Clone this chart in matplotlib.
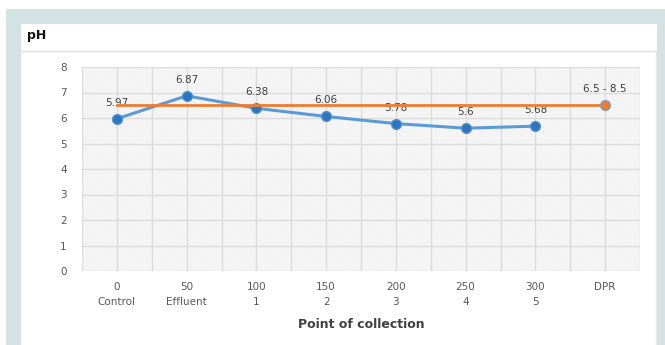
import numpy as np
import matplotlib.pyplot as plt
from matplotlib.patches import Rectangle
import matplotlib.lines as mlines

# data
distance = ['0', '50', '100', '150', '200', '250', '300', 'DPR']
site = ['Control', 'Effluent', '1', '2', '3', '4', '5', '']
ph_values = [5.97, 6.87, 6.38, 6.06, 5.78, 5.6, 5.68]
ph_labels = ['5.97', '6.87', '6.38', '6.06', '5.78', '5.6', '5.68']
dpr_limit = [6.5] * 8
dpr_label = '6.5 - 8.5'

W, H = 665, 345
fig = plt.figure(figsize=(W / 100, H / 100), dpi=100)

def fx(px):
    return px / W

def fy(py):
    return 1 - py / H

# page background and white card
fig.patches.append(Rectangle((fx(6), 0), 1 - fx(6), fy(9), transform=fig.transFigure,
                             facecolor='#d3e3e3', edgecolor='none', zorder=-3))
fig.patches.append(Rectangle((fx(21), 0), fx(657) - fx(21), fy(24), transform=fig.transFigure,
                             facecolor='white', edgecolor='none', zorder=-2))
fig.lines.append(mlines.Line2D([fx(21), fx(657)], [fy(51), fy(51)], transform=fig.transFigure,
                               color='#e0e0e0', lw=1, zorder=-1))
fig.lines.append(mlines.Line2D([fx(656), fx(656)], [fy(51), 0], transform=fig.transFigure,
                               color='#e6e6e6', lw=1, zorder=-1))
fig.text(fx(27), fy(35), 'pH', fontsize=9, fontweight='bold', color='#111111', va='center')

ax = fig.add_axes([fx(82), fy(271), fx(640) - fx(82), fy(67) - fy(271)])
ax.set_facecolor('none')
plt.rcParams['hatch.linewidth'] = 0.5
ax.add_patch(Rectangle((0, 0), 1, 1, transform=ax.transAxes, facecolor='white',
                       edgecolor='#ececec', hatch='\\' * 18, lw=0, zorder=0))

ax.set_xlim(-0.5, 7.5)
ax.set_ylim(0, 8)
ax.set_yticks(range(0, 9))
ax.set_xticks(range(len(distance)))
ax.set_xticks(np.arange(-0.5, 7.6, 1.0), minor=True)
ax.set_xticklabels([d + '\n' + s for d, s in zip(distance, site)], fontsize=7.5,
                   color='#595959', linespacing=1.6, va='top')
ax.tick_params(axis='y', labelsize=7.5, labelcolor='#595959', length=0, pad=11)
ax.tick_params(axis='x', which='both', length=0, pad=8)
ax.grid(True, which='major', color='#dcdcdc', lw=1)
ax.grid(True, which='minor', axis='x', color='#dcdcdc', lw=1)
ax.set_axisbelow(False)
for s in ax.spines.values():
    s.set_visible(False)

x = np.arange(len(ph_values))
ax.plot(x, ph_values, color='#5b9bd5', lw=2.2, marker='o', markersize=7,
        markerfacecolor='#2e75c0', markeredgecolor='#4a8fd0', zorder=3)
ax.plot(np.arange(len(dpr_limit)), dpr_limit, color='#ed7d31', lw=2, marker='o',
        markersize=7, markevery=[len(dpr_limit) - 1], markerfacecolor='#ed7d31',
        markeredgecolor='#7f9fbf', zorder=4)

for xi, v, lab in zip(x, ph_values, ph_labels):
    ax.annotate(lab, (xi, v), xytext=(0, 11.5), textcoords='offset points', ha='center',
                va='center', fontsize=7.5, color='#404040')
ax.annotate(dpr_label, (len(dpr_limit) - 1, dpr_limit[-1]), xytext=(0, 11.5),
            textcoords='offset points', ha='center', va='center', fontsize=7.5, color='#404040')

fig.text((fx(82) + fx(640)) / 2, fy(324), 'Point of collection', fontsize=9,
         fontweight='bold', color='#404040', ha='center', va='center')

fig.savefig('out.png', dpi=100)
